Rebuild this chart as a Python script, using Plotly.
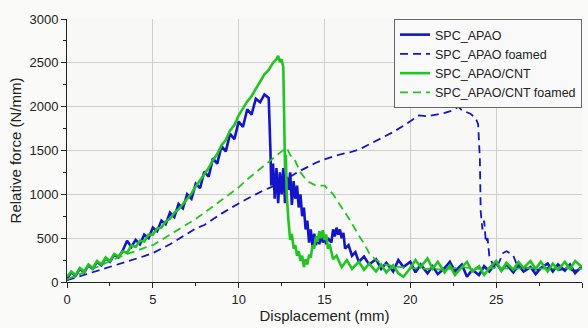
import plotly.graph_objects as go

# SPC_APAO (solid blue)
apao_x = [0, 0.25, 0.5, 0.75, 1, 1.25, 1.5, 1.75, 2, 2.25, 2.5, 2.75, 3, 3.25, 3.5, 3.75, 4, 4.25, 4.5, 4.75,
          5, 5.25, 5.5, 5.75, 6, 6.25, 6.5, 6.75, 7, 7.25, 7.5, 7.75, 8, 8.25, 8.5, 8.75, 9, 9.25, 9.5, 9.75,
          10, 10.25, 10.5, 10.75, 11, 11.25, 11.5, 11.75, 11.85, 11.9, 12.0, 12.1, 12.2, 12.3, 12.4, 12.5, 12.6,
          12.7, 12.8, 12.9, 13.0, 13.1, 13.2, 13.3, 13.4, 13.5, 13.6, 13.7, 13.8, 13.9, 14.0, 14.1, 14.2, 14.3,
          14.4, 14.5, 14.6, 14.7, 14.8, 14.9, 15.0, 15.1, 15.2, 15.4, 15.5, 15.6, 15.7, 15.8, 15.9, 16.0, 16.1,
          16.2, 16.4, 16.6, 16.8, 17.0, 17.3, 17.6, 18, 18.3, 18.6, 19, 19.3, 19.6, 20, 20.3, 20.6, 21, 21.3,
          21.6, 22, 22.3, 22.6, 23, 23.3, 23.6, 24, 24.3, 24.6, 25, 25.3, 25.6, 26, 26.3, 26.6, 27, 27.3, 27.6,
          28, 28.3, 28.6, 29, 29.3, 29.6, 30]
apao_y = [40, 110, 70, 150, 110, 190, 150, 230, 190, 270, 230, 310, 280, 360, 470, 400, 480, 430, 540, 500,
          620, 580, 700, 660, 790, 740, 890, 840, 1000, 950, 1120, 1070, 1260, 1200, 1410, 1350, 1550, 1490, 1690, 1630,
          1830, 1770, 1970, 1910, 2090, 2050, 2140, 2100, 1500, 1100, 1350, 950, 1300, 900, 1250, 1000, 1300,
          900, 1200, 1050, 1250, 880, 1150, 950, 1100, 850, 1000, 750, 850, 600, 700, 450, 600, 400,
          550, 420, 520, 430, 560, 450, 520, 430, 500, 450, 600, 520, 620, 540, 600, 500, 560,
          380, 420, 300, 340, 230, 290, 200, 260, 150, 220, 120, 250, 170, 230, 110, 200, 100, 180,
          90, 160, 230, 120, 200, 60, 140, 80, 180, 120, 220, 130, 200, 110, 190, 120, 170, 90, 160,
          210, 120, 200, 130, 200, 100, 180]

# SPC_APAO foamed (dashed blue)
apaof_x = [0, 0.5, 1, 1.5, 2, 2.5, 3, 3.5, 4, 4.5, 5, 5.5, 6, 6.5, 7, 7.5, 8, 8.5, 9, 9.5, 10, 10.5, 11, 11.5,
           12, 12.5, 13, 13.5, 14, 14.5, 15, 15.5, 16, 16.5, 17, 17.5, 18, 18.5, 19, 19.5, 20, 20.5, 21, 21.5,
           22, 22.5, 22.8, 23, 23.5, 23.8, 23.95, 24.05, 24.1, 24.2, 24.3, 24.4, 24.5, 24.6, 24.8, 25, 25.2,
           25.4, 25.6, 25.8, 26, 26.2, 26.5, 27, 27.5, 28, 28.5, 29, 29.5, 30]
apaof_y = [20, 50, 80, 110, 140, 170, 200, 235, 265, 295, 330, 380, 430, 490, 550, 610, 650, 720, 780, 840, 900, 950, 1000, 1050,
           1090, 1140, 1200, 1260, 1310, 1360, 1400, 1430, 1460, 1480, 1510, 1560, 1610, 1660, 1710, 1770, 1840, 1900, 1890, 1910,
           1930, 1960, 2000, 1960, 1920, 1870, 1800, 1400, 800, 600, 700, 450, 500, 300, 200, 150, 250,
           330, 350, 330, 300, 200, 170, 150, 140, 160, 130, 150, 130, 140]

# SPC_APAO/CNT (solid green)
cnt_x = [0, 0.25, 0.5, 0.75, 1, 1.25, 1.5, 1.75, 2, 2.25, 2.5, 2.75, 3, 3.25, 3.5, 3.75, 4, 4.25, 4.5, 4.75,
         5, 5.25, 5.5, 5.75, 6, 6.25, 6.5, 6.75, 7, 7.25, 7.5, 7.75, 8, 8.25, 8.5, 8.75, 9, 9.25, 9.5, 9.75,
         10, 10.25, 10.5, 10.75, 11, 11.25, 11.5, 11.75, 12, 12.2, 12.3, 12.4, 12.5, 12.6, 12.65, 12.7, 12.75,
         12.8, 12.9, 13.0, 13.1, 13.2, 13.3, 13.4, 13.5, 13.6, 13.7, 13.8, 13.9, 14.0, 14.1, 14.2, 14.3, 14.4,
         14.5, 14.6, 14.7, 14.8, 14.9, 15.0, 15.1, 15.2, 15.3, 15.5, 15.7, 16, 16.3, 16.6, 17, 17.3, 17.6, 18,
         18.3, 18.6, 19, 19.3, 19.6, 20, 20.3, 20.6, 21, 21.3, 21.6, 22, 22.3, 22.6, 23, 23.3, 23.6, 24, 24.3,
         24.6, 25, 25.3, 25.6, 26, 26.3, 26.6, 27, 27.3, 27.6, 28, 28.3, 28.6, 29, 29.3, 29.6, 30]
cnt_y = [60, 120, 80, 160, 120, 200, 160, 240, 200, 280, 240, 320, 290, 350, 330, 420, 400, 470, 460, 540,
         540, 610, 620, 690, 720, 790, 830, 890, 950, 1010, 1090, 1160, 1230, 1300, 1390, 1460, 1560, 1620, 1730, 1790,
         1900, 1980, 2060, 2120, 2200, 2280, 2370, 2420, 2500, 2540, 2580, 2510, 2540, 2450, 1800, 1300, 1450,
         1000, 700, 480, 550, 380, 420, 300, 350, 240, 300, 170, 260, 200, 310, 280, 420, 380,
         520, 460, 580, 500, 590, 480, 540, 380, 430, 260, 300, 170, 250, 150, 230, 140, 210, 120,
         200, 110, 190, 100, 60, 160, 250, 170, 270, 150, 230, 110, 190, 80, 170, 230, 120, 180, 80,
         160, 240, 130, 220, 140, 230, 160, 240, 150, 230, 120, 210, 140, 230, 150, 240, 170]

# SPC_APAO/CNT foamed (dashed green)
cntf_x = [0, 0.5, 1, 1.5, 2, 2.5, 3, 3.5, 4, 4.5, 5, 5.5, 6, 6.5, 7, 7.5, 8, 8.5, 9, 9.5, 10, 10.5, 11, 11.5,
          12, 12.5, 12.8, 13, 13.3, 13.6, 14, 14.5, 15, 15.5, 16, 16.5, 17, 17.3, 17.6, 18, 18.5, 19, 20, 21,
          22, 23, 24, 25, 26, 27, 28, 29, 30]
cntf_y = [30, 70, 110, 150, 190, 240, 280, 320, 350, 390, 420, 480, 540, 600, 660, 720, 790, 860, 940, 1010, 1080, 1170, 1250, 1330,
          1420, 1490, 1530, 1450, 1380, 1250, 1150, 1100, 1100, 1000, 850, 700, 530, 440, 330, 250, 200, 180, 160, 150,
          140, 170, 150, 160, 150, 160, 150, 160, 150]

x_ticks = [0, 5, 10, 15, 20, 25, 30]
y_ticks = [0, 500, 1000, 1500, 2000, 2500, 3000]

BLUE = "#1414c8"
GREEN = "#22c422"

fig = go.Figure()
fig.add_trace(go.Scatter(x=apao_x, y=apao_y, mode="lines", name="SPC_APAO",
                         line=dict(color=BLUE, width=2.6)))
fig.add_trace(go.Scatter(x=apaof_x, y=apaof_y, mode="lines", name="SPC_APAO foamed",
                         line=dict(color=BLUE, width=1.8, dash="8px,5px")))
fig.add_trace(go.Scatter(x=cnt_x, y=cnt_y, mode="lines", name="SPC_APAO/CNT",
                         line=dict(color=GREEN, width=2.6)))
fig.add_trace(go.Scatter(x=cntf_x, y=cntf_y, mode="lines", name="SPC_APAO/CNT foamed",
                         line=dict(color=GREEN, width=1.8, dash="8px,5px")))

axis_font = dict(family="Liberation Sans, Arial, sans-serif", size=13, color="#222")
fig.update_layout(
    width=588, height=328,
    margin=dict(l=67, r=6, t=19, b=46, autoexpand=False),
    paper_bgcolor="#fafaf8",
    plot_bgcolor="#f8f8f6",
    font=dict(family="Liberation Sans, Arial, sans-serif", size=13, color="#222"),
    showlegend=True,
    legend=dict(x=1, y=1, xanchor="right", yanchor="top",
                bgcolor="#f9f9f9", bordercolor="#666", borderwidth=1,
                font=dict(size=12.5, color="#222"), tracegroupgap=0,
                itemwidth=30),
)
fig.update_xaxes(range=[0, 30], tickvals=x_ticks, ticks="outside", ticklen=5, tickcolor="#222",
                 showline=True, linecolor="#222", linewidth=1,
                 showgrid=True, gridcolor="#cfcfcf", gridwidth=1, zeroline=False,
                 minor=dict(dtick=2.5, ticks="outside", ticklen=3, tickcolor="#222", showgrid=False),
                 title=dict(text="Displacement (mm)", font=dict(size=15), standoff=4),
                 tickfont=axis_font)
fig.update_yaxes(range=[0, 3000], tickvals=y_ticks, ticks="outside", ticklen=5, tickcolor="#222",
                 showline=True, linecolor="#222", linewidth=1,
                 showgrid=True, gridcolor="#cfcfcf", gridwidth=1, zeroline=False,
                 minor=dict(dtick=250, ticks="outside", ticklen=3, tickcolor="#222", showgrid=False),
                 title=dict(text="Relative force (N/mm)", font=dict(size=15), standoff=4),
                 tickfont=axis_font)

fig.write_html("out.html", config={"displayModeBar": False},
               post_script="document.body.style.margin='0';")
